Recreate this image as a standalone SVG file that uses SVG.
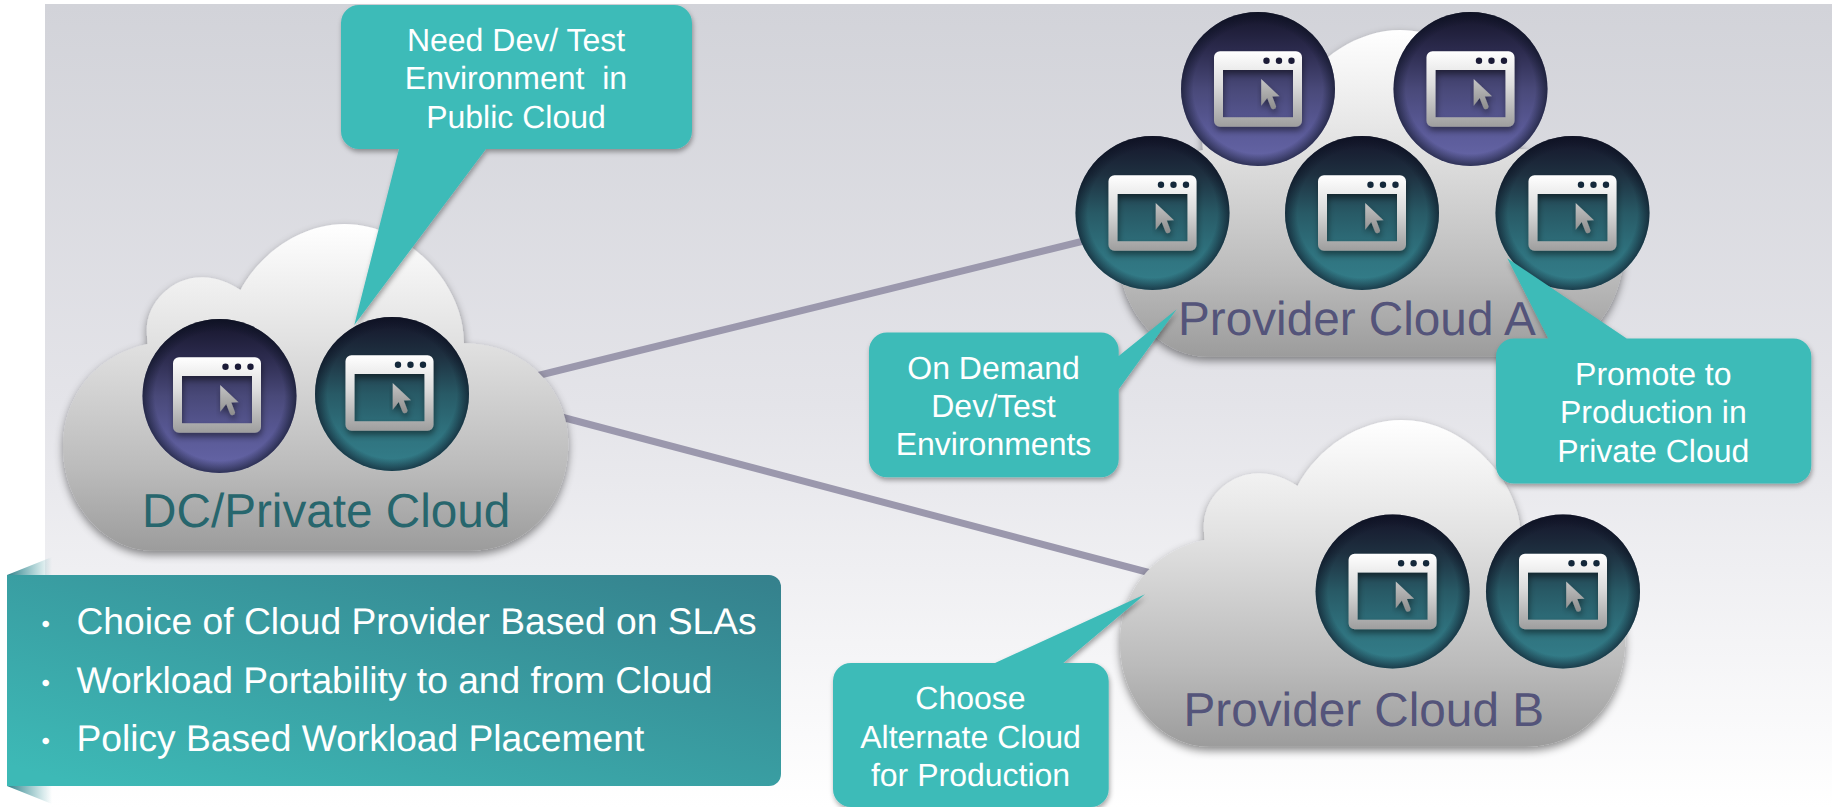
<svg xmlns="http://www.w3.org/2000/svg" width="1832" height="807" viewBox="0 0 1832 807">
<style>
text{font-family:"Liberation Sans",Arial,sans-serif;text-rendering:geometricPrecision}
.callout{fill:#3dbbb8;filter:url(#fs)}
.ct{fill:#fff;font-size:32px;text-anchor:middle;white-space:pre}
.cl{fill:url(#cloudG);filter:url(#cs)}
.lb{font-size:47.7px}
.bt{fill:#fff;font-size:37.2px}
.bu{fill:#fff;font-size:24px}
.conn{stroke:#9b98ad;stroke-width:7;fill:none}
</style>
<defs>
<linearGradient id="bg" x1="0" y1="0" x2="0" y2="1"><stop offset="0" stop-color="#d2d3d9"/><stop offset=".5" stop-color="#e4e4e9"/><stop offset="1" stop-color="#fff"/></linearGradient>
<linearGradient id="cloudG" x1="0" y1="0" x2="0" y2="1"><stop offset="0" stop-color="#fff"/><stop offset=".35" stop-color="#e2e2e2"/><stop offset=".75" stop-color="#bbb"/><stop offset="1" stop-color="#9c9c9c"/></linearGradient>
<linearGradient id="tealC" x1="0" y1="0" x2="0" y2="1"><stop offset="0" stop-color="#15152a"/><stop offset=".25" stop-color="#1e3040"/><stop offset=".5" stop-color="#285a66"/><stop offset=".75" stop-color="#2f727e"/><stop offset="1" stop-color="#347f8b"/></linearGradient>
<linearGradient id="purC" x1="0" y1="0" x2="0" y2="1"><stop offset="0" stop-color="#15152a"/><stop offset=".25" stop-color="#2c2b4e"/><stop offset=".5" stop-color="#494979"/><stop offset=".75" stop-color="#595996"/><stop offset="1" stop-color="#6666a8"/></linearGradient>
<radialGradient id="rim" cx=".5" cy=".5" r=".5"><stop offset=".84" stop-color="#0a1020" stop-opacity="0"/><stop offset="1" stop-color="#0a1020" stop-opacity=".6"/></radialGradient>
<linearGradient id="win" x1="0" y1="0" x2="0" y2="1"><stop offset="0" stop-color="#fff"/><stop offset=".45" stop-color="#dcdcdc"/><stop offset="1" stop-color="#9e9e9e"/></linearGradient>
<linearGradient id="cur" x1="0" y1="0" x2="0" y2="1"><stop offset="0" stop-color="#c4c4c4"/><stop offset="1" stop-color="#8c8c8c"/></linearGradient>
<linearGradient id="boxG" x1="0" y1="1" x2="1" y2="0" gradientUnits="objectBoundingBox"><stop offset=".05" stop-color="#3db9b6"/><stop offset="1" stop-color="#35808c"/></linearGradient>
<linearGradient id="foldG" x1="0" y1="0" x2="1" y2="0"><stop offset="0" stop-color="#2f7f88"/><stop offset="1" stop-color="#3a9aa0" stop-opacity="0"/></linearGradient>
<filter id="cs" x="-10%" y="-10%" width="120%" height="125%"><feDropShadow dx="0" dy="4" stdDeviation="4" flood-color="#000" flood-opacity=".45"/></filter>
<filter id="fs" x="-10%" y="-10%" width="120%" height="125%"><feDropShadow dx="1" dy="3" stdDeviation="2.5" flood-color="#000" flood-opacity=".35"/></filter>
<filter id="is" x="-20%" y="-20%" width="140%" height="140%"><feDropShadow dx="1" dy="4" stdDeviation="3" flood-color="#000" flood-opacity=".45"/></filter>
<path id="cloud" d="M85 120C30 132 .5 175 .5 222.7C.5 280 42 326.7 90 326.7L406.6 326.7C465 326.7 505.8 280 505.8 219C505.8 165 462 119 401.4 119.3C402 60 345 0 282 0C240 0 198 28 178 66C166 58 152 53 139.7 53.3C110 53 84.3 78 84.3 106C84.3 110 84.6 115 85 120Z"/>
<g id="win-ico">
<path filter="url(#is)" fill="url(#win)" fill-rule="evenodd" d="M-40.500-38.700H35.500a6 6 0 0 1 6 6V30.700a6 6 0 0 1-6 6H-40.500a6 6 0 0 1-6-6V-32.700a6 6 0 0 1 6-6ZM-37.500-20V27.300H32.500V-20Z"/>
<circle cx="6" cy="-29.300" r="3.200"/><circle cx="18.500" cy="-29.300" r="3.200"/><circle cx="31" cy="-29.300" r="3.200"/>
<path filter="url(#is)" fill="url(#cur)" d="M.7-11L19 6.300L11.800 6.500L15.600 16.500Q15.500 19 12.800 19.300Q11 19.500 10.200 17L6.700 8L.7 15.700Z"/>
</g>
<g id="tc"><circle r="77" fill="url(#tealC)"/><circle r="77" fill="url(#rim)"/></g>
<g id="pc"><circle r="77" fill="url(#purC)"/><circle r="77" fill="url(#rim)"/></g>
<g id="tvm"><use href="#tc"/><use href="#win-ico" x="2.500" y="1" fill="#14283a"/></g>
<g id="pvm"><use href="#pc"/><use href="#win-ico" x="2.500" y="1" fill="#1a1a36"/></g>
</defs>
<rect x="45" y="4" width="1787" height="803" fill="url(#bg)"/>
<g id="connectors">
<line class="conn" x1="530" y1="377.500" x2="1100" y2="237"/>
<line class="conn" x1="550" y1="414" x2="1160" y2="575.500"/>
</g>
<g id="dc-cloud">
<use href="#cloud" class="cl" x="62.500" y="224"/>
<use href="#pc" x="219.500" y="396"/><use href="#win-ico" x="219.500" y="396" fill="#1a1a36"/>
<use href="#tc" x="392" y="394"/><use href="#win-ico" x="392" y="394" fill="#14283a"/>
<text class="lb" x="142" y="527" fill="#27666d">DC/Private Cloud</text>
</g>
<g id="provider-a">
<use href="#cloud" class="cl" x="1118" y="30"/>
<use href="#pvm" x="1258" y="89"/>
<use href="#pvm" x="1470.500" y="89"/>
<use href="#tvm" x="1152.500" y="213"/>
<use href="#tvm" x="1362" y="213"/>
<use href="#tvm" x="1572.500" y="213"/>
<text class="lb" x="1178" y="335" fill="#54547a">Provider Cloud A</text>
</g>
<g id="provider-b">
<use href="#cloud" class="cl" x="1119.500" y="420"/>
<use href="#tvm" x="1392.600" y="591.500"/>
<use href="#tvm" x="1563" y="591.500"/>
<text class="lb" x="1183.500" y="726" fill="#54547a">Provider Cloud B</text>
</g>
<g id="callout-need">
<path class="callout" d="M359 5H674a18 18 0 0 1 18 18V131a18 18 0 0 1-18 18H486L354.300 325L399 149H359a18 18 0 0 1-18-18V23a18 18 0 0 1 18-18Z"/>
<text class="ct" x="516" y="51">Need Dev/ Test</text>
<text class="ct" x="516" y="89">Environment  in</text>
<text class="ct" x="516" y="128">Public Cloud</text>
</g>
<g id="callout-demand">
<path class="callout" d="M887 332.500H1100.700a18 18 0 0 1 18 18V356L1176.700 309.300L1118.700 389.300V459.300a18 18 0 0 1-18 18H887a18 18 0 0 1-18-18V350.500a18 18 0 0 1 18-18Z"/>
<text class="ct" x="993.500" y="378.500">On Demand</text>
<text class="ct" x="993.500" y="417">Dev/Test</text>
<text class="ct" x="993.500" y="455">Environments</text>
</g>
<g id="callout-promote">
<path class="callout" d="M1514 338.500H1548.300L1507.300 258.300L1626.700 338.500H1793.300a18 18 0 0 1 18 18V465.500a18 18 0 0 1-18 18H1514a18 18 0 0 1-18-18V356.500a18 18 0 0 1 18-18Z"/>
<text class="ct" x="1653.300" y="384.500">Promote to</text>
<text class="ct" x="1653.300" y="423">Production in</text>
<text class="ct" x="1653.300" y="461.500">Private Cloud</text>
</g>
<g id="callout-choose">
<path class="callout" d="M851 663H995L1145 594.300L1063.300 663H1090.700a18 18 0 0 1 18 18V789a18 18 0 0 1-18 18H851a18 18 0 0 1-18-18V681a18 18 0 0 1 18-18Z"/>
<text class="ct" x="970.500" y="708.500">Choose</text>
<text class="ct" x="970.500" y="747.500">Alternate Cloud</text>
<text class="ct" x="970.500" y="786">for Production</text>
</g>
<g id="summary-box">
<path d="M7 575L52 557V575Z" fill="url(#foldG)"/>
<path d="M7 786L52 804V786Z" fill="url(#foldG)"/>
<path d="M7 575H769a12 12 0 0 1 12 12V774a12 12 0 0 1-12 12H7Z" fill="url(#boxG)"/>
<text class="bu" x="41.500" y="632">•</text><text class="bt" x="76.500" y="634">Choice of Cloud Provider Based on SLAs</text>
<text class="bu" x="41.500" y="690.500">•</text><text class="bt" x="76.500" y="692.500">Workload Portability to and from Cloud</text>
<text class="bu" x="41.500" y="749">•</text><text class="bt" x="76.500" y="751">Policy Based Workload Placement</text>
</g>
</svg>
